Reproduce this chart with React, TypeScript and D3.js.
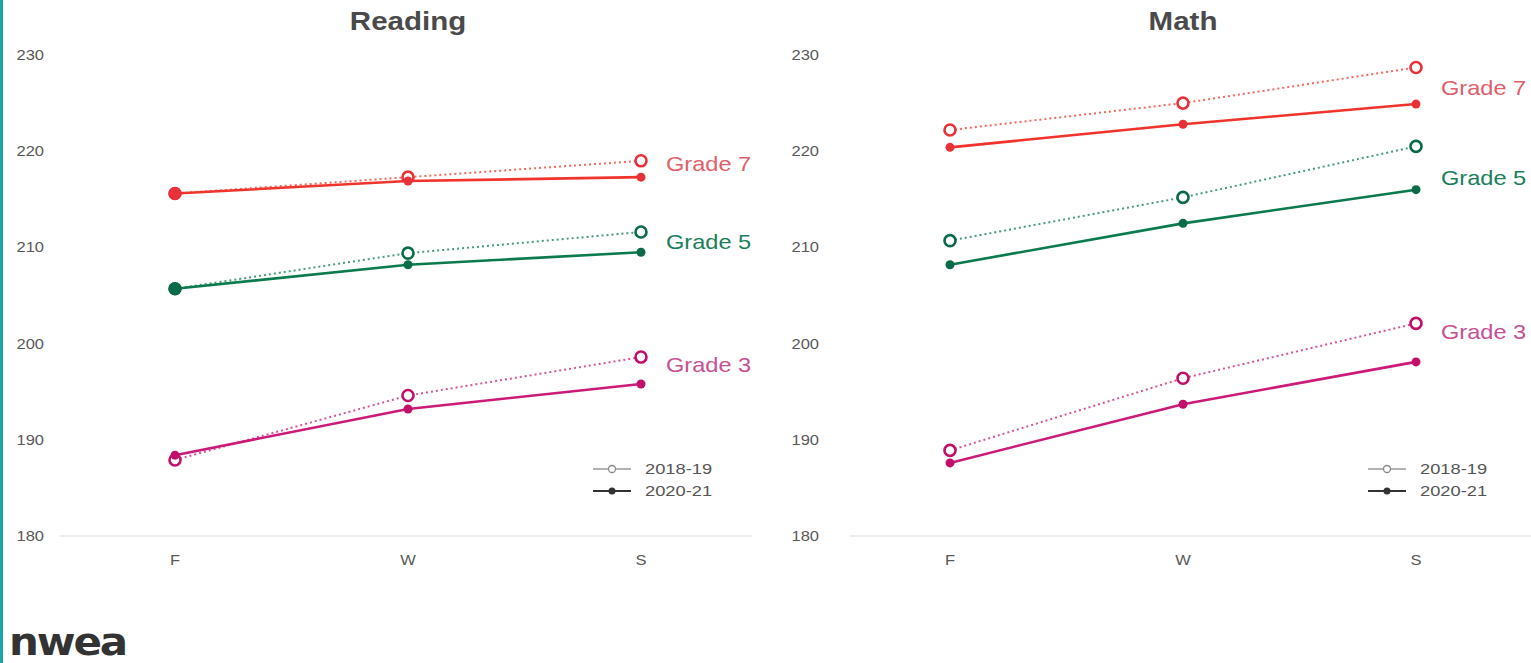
import React from 'react';
import * as d3 from 'd3';

const seasons = ['F', 'W', 'S'];
const yTicks = [180, 190, 200, 210, 220, 230];
const legendLabels = ['2018-19', '2020-21'];

// Reading RIT means
const readingG7_1819 = [215.6, 217.3, 219.0];
const readingG7_2021 = [215.6, 216.9, 217.3];
const readingG5_1819 = [205.7, 209.4, 211.6];
const readingG5_2021 = [205.7, 208.2, 209.5];
const readingG3_1819 = [187.9, 194.6, 198.6];
const readingG3_2021 = [188.4, 193.2, 195.8];
// where the grade names sit (data units)
const readingLabelAt = [218.7, 210.6, 197.8];

// Math RIT means
const mathG7_1819 = [222.2, 225.0, 228.7];
const mathG7_2021 = [220.4, 222.8, 224.9];
const mathG5_1819 = [210.7, 215.2, 220.5];
const mathG5_2021 = [208.2, 212.5, 216.0];
const mathG3_1819 = [188.9, 196.4, 202.1];
const mathG3_2021 = [187.6, 193.7, 198.1];
const mathLabelAt = [226.6, 217.2, 201.2];

const GRADES = [
  { name: 'Grade 7', line: '#f0332b', dot: '#e8323a', label: '#e0606a' },
  { name: 'Grade 5', line: '#0b7a4c', dot: '#0b6a48', label: '#18805a' },
  { name: 'Grade 3', line: '#cc1a78', dot: '#c0106a', label: '#c85095' },
];

const panels = [
  {
    title: 'Reading',
    x0: 175, x1: 641, axisX: 44, gridX0: 60, gridX1: 752,
    series: [
      [readingG7_1819, readingG7_2021],
      [readingG5_1819, readingG5_2021],
      [readingG3_1819, readingG3_2021],
    ],
    labelAt: readingLabelAt,
    legendX: 593, legendY: 469,
  },
  {
    title: 'Math',
    x0: 950, x1: 1416, axisX: 819, gridX0: 850, gridX1: 1531,
    series: [
      [mathG7_1819, mathG7_2021],
      [mathG5_1819, mathG5_2021],
      [mathG3_1819, mathG3_2021],
    ],
    labelAt: mathLabelAt,
    legendX: 1368, legendY: 469,
  },
];

const W = 1531;
const H = 663;
const FONT = 'Liberation Sans, Arial, sans-serif';
const SX = 1.18; // the source picture is stretched sideways

const y = d3.scaleLinear().domain([180, 230]).range([536, 55]);

// text stretched horizontally around its anchor
function T({ x, y: ty, children, ...rest }: any) {
  return (
    <text transform={`translate(${x},${ty}) scale(${SX},1)`} fontFamily={FONT} {...rest}>
      {children}
    </text>
  );
}

function Panel({ p }: { p: typeof panels[number] }) {
  const x = d3.scalePoint<string>().domain(seasons).range([p.x0, p.x1]);
  const line = d3.line<number>()
    .x((_, i) => x(seasons[i]) as number)
    .y(d => y(d));
  const midX = (p.x0 + p.x1) / 2;

  return (
    <g>
      <T x={midX} y={30} textAnchor="middle" fontWeight="bold" fontSize={25} fill="#4a4a4a">
        {p.title}
      </T>
      <line x1={p.gridX0} x2={p.gridX1} y1={y(180)} y2={y(180)} stroke="#e6e6e6" strokeWidth={1.5} />
      {yTicks.map(t => (
        <T key={t} x={p.axisX} y={y(t)} dy="0.35em" textAnchor="end" fontSize={14} fill="#595959">
          {t}
        </T>
      ))}
      {seasons.map(s => (
        <T key={s} x={x(s)} y={565} textAnchor="middle" fontSize={14} fill="#595959">
          {s}
        </T>
      ))}
      {p.series.map(([prev, curr], gi) => {
        const g = GRADES[gi];
        return (
          <g key={g.name}>
            <path d={line(prev) ?? ''} fill="none" stroke={g.line} strokeOpacity={0.75} strokeWidth={2} strokeDasharray="2,3" />
            <path d={line(curr) ?? ''} fill="none" stroke={g.line} strokeWidth={2.6} />
            {prev.map((v, i) => (
              <circle key={'p' + i} cx={x(seasons[i])} cy={y(v)} r={5.5} fill="white" stroke={g.dot} strokeWidth={2.6} />
            ))}
            {curr.map((v, i) => (
              <circle key={'c' + i} cx={x(seasons[i])} cy={y(v)} r={Math.abs(v - prev[i]) < 0.2 ? 6.5 : 4.5} fill={g.dot} />
            ))}
            <T x={p.x1 + 25} y={y(p.labelAt[gi])} dy="0.35em" fontSize={20} fill={g.label}>
              {g.name}
            </T>
          </g>
        );
      })}
      {legendLabels.map((lab, i) => {
        const ly = p.legendY + i * 22;
        return (
          <g key={lab}>
            <line x1={p.legendX} x2={p.legendX + 38} y1={ly} y2={ly} stroke={i === 0 ? '#999' : '#333'} strokeWidth={i === 0 ? 1.3 : 2} />
            {i === 0
              ? <circle cx={p.legendX + 19} cy={ly} r={3.5} fill="white" stroke="#888" strokeWidth={1.3} />
              : <circle cx={p.legendX + 19} cy={ly} r={3.5} fill="#333" />}
            <T x={p.legendX + 52} y={ly} dy="0.35em" fontSize={15.5} fill="#555">
              {lab}
            </T>
          </g>
        );
      })}
    </g>
  );
}

export default function App() {
  return (
    <svg width={W} height={H} style={{ position: 'absolute', left: 0, top: 0, background: 'white' }}>
      <rect x={0} y={0} width={W} height={H} fill="white" />
      <line x1={1.5} x2={1.5} y1={0} y2={H} stroke="#1aa6a6" strokeWidth={3} />
      {panels.map(p => <Panel key={p.title} p={p} />)}
      <text transform="translate(9,655) scale(1.4,1.22)" fontFamily="DejaVu Sans, sans-serif" fontWeight="bold" fontSize={30} fill="#333" letterSpacing={-1.5}>
        nwea
      </text>
    </svg>
  );
}
